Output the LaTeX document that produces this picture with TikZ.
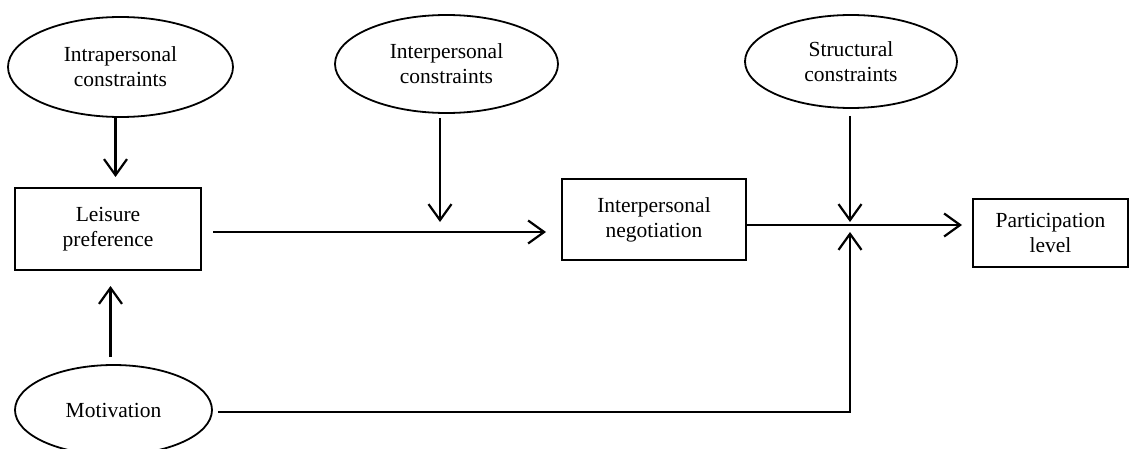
\documentclass[tikz,border=0pt]{standalone}
\usepackage{fontspec}
\setmainfont{Liberation Serif}
\usetikzlibrary{shapes.geometric, arrows.meta, calc}
\tikzstyle{every picture}+=[remember picture]

\begin{document}
\begin{tikzpicture}[x=1pt,y=-1pt,
	every node/.style={font=\fontsize{21.5}{25}\selectfont},
	oval/.style={draw, ellipse, line width=1.8pt, inner sep=0pt, align=center},
	box/.style={draw, rectangle, line width=2pt, inner sep=0pt, align=center},
	arr/.style={-{Straight Barb[length=16pt,width=23pt]}, line width=2.2pt}]
	\clip (0,0) rectangle (1129,449);
	% constraints
	\node[oval, minimum width=225pt, minimum height=100pt] (intra) at (120.5,67) {Intrapersonal\\constraints};
	\node[oval, minimum width=223pt, minimum height=98pt] (inter) at (446.5,64) {Interpersonal\\constraints};
	\node[oval, minimum width=212pt, minimum height=93pt] (struc) at (851,61.5) {Structural\\constraints};
	\node[oval, minimum width=197pt, minimum height=90pt] (moti) at (113.5,410) {Motivation};
	% boxes
	\node[box, minimum width=186pt, minimum height=82pt] (leis) at (108,229) {Leisure\\preference};
	\node[box, minimum width=184pt, minimum height=81pt] (neg) at (654,219.5) {Interpersonal\\negotiation};
	\node[box, minimum width=155pt, minimum height=68pt] (part) at (1050.5,233) {Participation\\level};
	\coordinate (lmid) at ([yshift=-3pt]leis.east);
	\coordinate (hub) at (850,225);
	% arrows
	\draw[arr, shorten >=10pt] ([xshift=-5pt]intra.south) -- ([xshift=-5pt]intra.south |- leis.north);
	\draw[arr, shorten <=7pt, shorten >=15pt] ([xshift=-3pt]moti.north) -- ([xshift=-3pt]moti.north |- leis.south);
	\draw[arr, shorten <=11pt, shorten >=15pt] (lmid) -- (lmid -| neg.west);
	\draw[arr, shorten <=4pt, shorten >=10pt] ([xshift=-6.5pt]inter.south) -- ([xshift=-6.5pt]inter.south |- lmid);
	\draw[arr, shorten <=7pt, shorten >=3pt] (struc.south -| hub) -- (hub);
	\draw[arr, shorten >=10pt] (neg.east |- hub) -- (part.west |- hub);
	\draw[arr, shorten <=5pt, shorten >=7pt] ([yshift=-2pt]moti.east) -- ([yshift=-2pt]moti.east -| hub) -- (hub);
\end{tikzpicture}
\end{document}
